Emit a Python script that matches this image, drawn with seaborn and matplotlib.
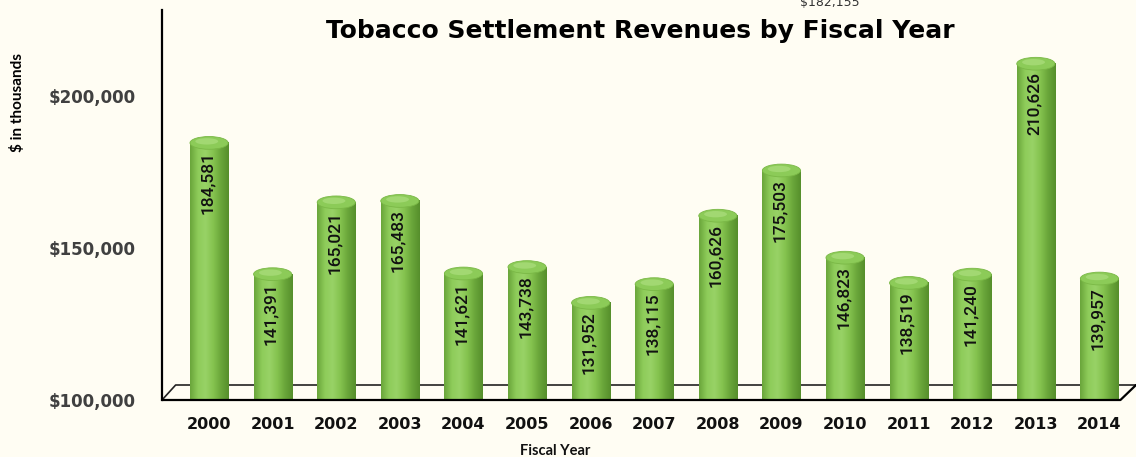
import numpy as np
import pandas as pd
import matplotlib
matplotlib.use("Agg")
import matplotlib.pyplot as plt
import seaborn as sns
from matplotlib.colors import LinearSegmentedColormap
from matplotlib.patches import Ellipse

# --- Data ---
years = ['2000', '2001', '2002', '2003', '2004', '2005', '2006', '2007',
         '2008', '2009', '2010', '2011', '2012', '2013', '2014']
revenues = [184581, 141391, 165021, 165483, 141621, 143738, 131952, 138115,
            160626, 175503, 146823, 138519, 141240, 210626, 139957]
y_ticks = [100000, 150000, 200000]
stray_label = '$182,155'

# --- Styling ---
BG = '#fffdf3'
sns.set_theme(style="white")
plt.rcParams['font.family'] = ['DejaVu Sans']

df = pd.DataFrame({'Year': years, 'Revenue': revenues})

fig = plt.figure(figsize=(11.36, 4.57), dpi=100, facecolor=BG)
ax = fig.add_axes([162 / 1136, 57 / 457, 1 - 162 / 1136, 390 / 457])
ax.set_facecolor(BG)

sns.barplot(data=df, x='Year', y='Revenue', color='#7dbb47', width=0.6,
            saturation=1, ax=ax, zorder=2)

YMIN, YMAX = 100000, 228300
cyl = LinearSegmentedColormap.from_list(
    'cyl', ['#6aa63b', '#8ecc5a', '#98d266', '#85c34f', '#6aa63a', '#568f2c'])
grad = np.linspace(0, 1, 64).reshape(1, -1)
cap_h = 4200

for p in ax.patches:
    x0, w, top = p.get_x(), p.get_width(), p.get_height()
    p.set_alpha(0)
    ax.imshow(grad, extent=[x0, x0 + w, YMIN, top], aspect='auto',
              cmap=cyl, zorder=2, interpolation='bicubic')
    ax.add_patch(Ellipse((x0 + w / 2, top), w, cap_h, facecolor='#8ccb58',
                         edgecolor='#7ab846', lw=0.6, zorder=3))
    ax.add_patch(Ellipse((x0 + w / 2 - w * 0.06, top + cap_h * 0.12), w * 0.6,
                         cap_h * 0.5, facecolor='#a2d872', edgecolor='none',
                         zorder=3))

for i, v in enumerate(revenues):
    ax.text(i - 0.03, v - 2800, f"{v:,}", rotation=90, ha='center', va='top',
            fontsize=12.5, fontweight='medium', color='#111111', zorder=4,
            family=['Roboto', 'DejaVu Sans'])

ax.set_xlim(-0.74, 14.575)
ax.set_ylim(YMIN, YMAX)
ax.set_yticks(y_ticks)
ax.set_yticklabels([f"${t:,}" for t in y_ticks], fontsize=12,
                   fontweight='bold', color='#404040')
ax.tick_params(axis='y', length=0, pad=19)
ax.tick_params(axis='x', length=0, pad=12, labelsize=11.5)
for lbl in ax.get_xticklabels():
    lbl.set_fontweight('bold')
    lbl.set_color('#111111')
ax.set_xlabel('')
ax.set_ylabel('')

for s in ['top', 'right', 'bottom']:
    ax.spines[s].set_visible(False)
ax.spines['left'].set_color('black')
ax.spines['left'].set_linewidth(1.6)

# 3D floor outline
tr = ax.transAxes
ax.plot([0, 0.014, 1], [0, 15 / 390, 15 / 390], color='#222222', lw=1.2,
        transform=tr, zorder=1, clip_on=False)
ax.plot([0, 0.984, 1], [0, 0, 15 / 390], color='black', lw=1.6,
        transform=tr, zorder=5, clip_on=False)

fig.text(640 / 1136, 1 - 31 / 457, 'Tobacco Settlement Revenues by Fiscal Year',
         ha='center', va='center', fontsize=18, fontweight='bold', color='black')
fig.text(830 / 1136, 1 - 2 / 457, stray_label, ha='center', va='center',
         fontsize=9, color='#333333')
fig.text(18 / 1136, 1 - 103 / 457, '$ in thousands', rotation=90, ha='center',
         va='center', fontsize=11, fontweight='bold', color='black',
         family=['Lato', 'DejaVu Sans'])
fig.text(555 / 1136, 1 - 451 / 457, 'Fiscal Year', ha='center', va='center',
         fontsize=10.5, fontweight='bold', color='#111111',
         family=['Lato', 'DejaVu Sans'])

fig.savefig('out.png', dpi=100, facecolor=BG)
